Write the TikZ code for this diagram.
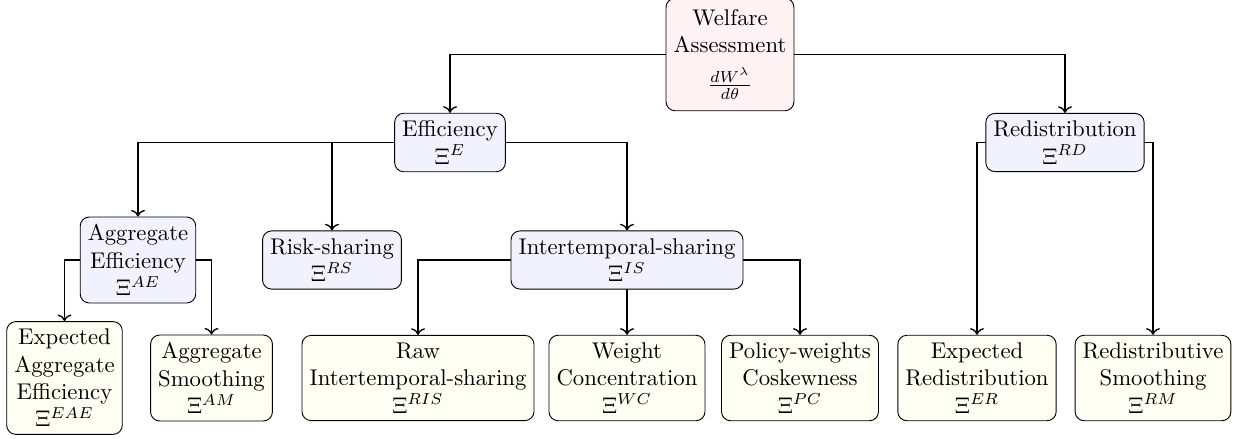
\documentclass[tikz,border=0pt]{standalone}
\usepackage{amsmath}
\usepackage{tikz}
\usetikzlibrary{arrows.meta, calc}
\definecolor{rootFill}{rgb}{1, 0.95, 0.95}
\definecolor{midFill}{rgb}{0.95, 0.95, 1}
\definecolor{leafFill}{rgb}{0.995, 0.995, 0.95}
\tikzset{
  box/.style={draw, rounded corners, align=center, inner sep=3.33pt},
  rootbox/.style={box, fill=rootFill, inner ysep=5pt},
  midbox/.style={box, fill=midFill},
  leafbox/.style={box, fill=leafFill},
  link/.style={->, semithick}
}

\begin{document}
\begin{tikzpicture}[x=0.44pt, y=-0.44pt, line cap=round]

  \useasboundingbox (0,0) rectangle (1239,439);

  % levels
  \node[rootbox] (W) at (730,54.5) {Welfare\\Assessment\\[5pt]$\frac{dW^{\lambda}}{d\theta}$};

  \node[midbox] (E) at (450,142.5) {Efficiency\\$\Xi^{E}$};
  \node[midbox] (RD) at (1065,142.5) {Redistribution\\$\Xi^{RD}$};

  \node[midbox] (AE) at (138,260) {Aggregate\\Efficiency\\$\Xi^{AE}$};
  \node[midbox] (RS) at (332,260) {Risk-sharing\\$\Xi^{RS}$};
  \node[midbox] (IS) at (627,260) {Intertemporal-sharing\\$\Xi^{IS}$};

  \node[leafbox] (EAE) at (64.5,378) {Expected\\Aggregate\\Efficiency\\$\Xi^{EAE}$};
  \node[leafbox] (AM) at (211.5,378) {Aggregate\\Smoothing\\$\Xi^{AM}$};
  \node[leafbox] (RIS) at (418,378) {Raw\\Intertemporal-sharing\\$\Xi^{RIS}$};
  \node[leafbox] (WC) at (627,378) {Weight\\Concentration\\$\Xi^{WC}$};
  \node[leafbox] (PC) at (800,378) {Policy-weights\\Coskewness\\$\Xi^{PC}$};
  \node[leafbox] (ER) at (977,378) {Expected\\Redistribution\\$\Xi^{ER}$};
  \node[leafbox] (RM) at (1153,378) {Redistributive\\Smoothing\\$\Xi^{RM}$};

  % links
  \draw[link] (W.west) -| (E.north);
  \draw[link] (W.east) -| (RD.north);
  \draw[link] (E.west) -| (AE.north);
  \draw[link] (E.west) -| (RS.north);
  \draw[link] (E.east) -| (IS.north);
  \draw[link] (AE.west) -| (EAE.north);
  \draw[link] (AE.east) -| (AM.north);
  \draw[link] (IS.west) -| (RIS.north);
  \draw[link] (IS.south) -- (WC.north);
  \draw[link] (IS.east) -| (PC.north);
  \draw[link] (RD.west) -| (ER.north);
  \draw[link] (RD.east) -| (RM.north);

\end{tikzpicture}
\end{document}
